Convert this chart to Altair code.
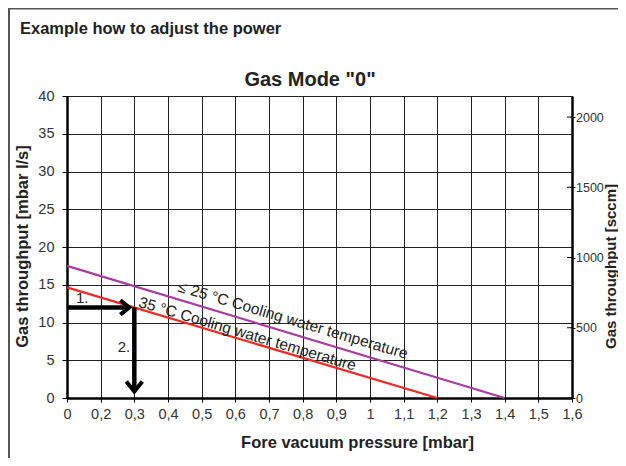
import altair as alt
import pandas as pd

# ---------------- data ----------------
x_ticks = [0, 0.2, 0.3, 0.4, 0.5, 0.6, 0.7, 0.8, 0.9, 1.0, 1.1, 1.2, 1.3, 1.4, 1.5, 1.6]
y_ticks = [0, 5, 10, 15, 20, 25, 30, 35, 40]
sccm_ticks = [0, 500, 1000, 1500, 2000]
sccm_max = 2150

series = ["≤25 °C", "35 °C"]
curve_x = [[0.0, 1.4], [0.0, 1.2]]
curve_y = [[17.5, 0.0], [14.65, 0.0]]
curve_colors = ["#a63d9f", "#ee2a24"]

labels_text = ["≤ 25 °C Cooling water temperature", "35 °C Cooling water temperature"]
labels_x = [0.427, 0.31]
labels_y = [14.15, 12.1]

arrow_h_x = [0.0, 0.285]
arrow_h_y = [12.0, 12.0]
arrow_v_x = [0.3, 0.3]
arrow_v_y = [12.0, 0.85]
step_text = ["1.", "2."]
step_x = [0.09, 0.269]
step_y = [13.2, 6.75]

# ---------------- layout ----------------
W, H = 505, 302
NARROW = "Liberation Sans Narrow, Arial Narrow, Liberation Sans"
SANS = "Liberation Sans, Arial, Helvetica"
TXT = "#222222"

xscale = alt.Scale(domain=[0, 0.2, 1.6], range=[0, W / 15, W], nice=False, zero=False)
yscale = alt.Scale(domain=[0, 40], nice=False, zero=False)

xaxis = alt.Axis(
    values=x_ticks,
    labelExpr="replace(format(datum.value, '.1~f'), '.', ',')",
    grid=True, gridColor="#222222", gridWidth=1,
    domainColor="black", domainWidth=2.5,
    tickColor="black", tickSize=4, tickWidth=1,
    labelFont=NARROW, labelFontSize=14.5, labelColor="#333333", labelPadding=5,
    labelFlush=False,
    title="Fore vacuum pressure [mbar]", titleFont=SANS, titleFontSize=16.5,
    titleFontWeight="bold", titleColor=TXT,
    titleX=290, titleY=44, titleBaseline="middle", titleAlign="center",
)
yaxis = alt.Axis(
    values=y_ticks,
    grid=True, gridColor="#222222", gridWidth=1,
    domainColor="black", domainWidth=2.5,
    tickColor="black", tickSize=5, tickWidth=1,
    labelFont=NARROW, labelFontSize=14.5, labelColor="#333333", labelPadding=8,
    labelFlush=False,
    title="Gas throughput [mbar l/s]", titleFont=SANS, titleFontSize=16.5,
    titleFontWeight="bold", titleColor=TXT,
    titleX=-45, titleY=150, titleAngle=270, titleBaseline="middle", titleAlign="center",
)


def X(field):
    return alt.X(field, type="quantitative", scale=xscale, axis=xaxis)


def Y(field):
    return alt.Y(field, type="quantitative", scale=yscale, axis=yaxis)


curves = pd.DataFrame(
    [
        {"x": xv, "y": yv, "series": s}
        for s, xs, ys in zip(series, curve_x, curve_y)
        for xv, yv in zip(xs, ys)
    ]
)

lines = alt.Chart(curves).mark_line(strokeWidth=2.2).encode(
    x=X("x"),
    y=Y("y"),
    color=alt.Color("series:N", scale=alt.Scale(domain=series, range=curve_colors), legend=None),
    detail="series:N",
)

labels_df = pd.DataFrame({"x": labels_x, "y": labels_y, "t": labels_text})
curve_labels = alt.Chart(labels_df).mark_text(
    align="left", baseline="alphabetic", angle=16.5, font=SANS, fontSize=15.5, color=TXT
).encode(x=X("x"), y=Y("y"), text="t:N")

arrow_h = alt.Chart(pd.DataFrame({"x": arrow_h_x, "y": arrow_h_y})).mark_line(
    color="black", strokeWidth=4.5
).encode(x=X("x"), y=Y("y"))
arrow_v = alt.Chart(pd.DataFrame({"x": arrow_v_x, "y": arrow_v_y})).mark_line(
    color="black", strokeWidth=4.5
).encode(x=X("x"), y=Y("y"))

head_h = alt.Chart(pd.DataFrame({"x": [arrow_h_x[-1]], "y": [arrow_h_y[-1]]})).mark_point(
    shape="M-1,-0.8L0,0L-1,0.8", size=324, filled=False, color="black",
    strokeWidth=4, opacity=1, strokeJoin="miter",
).encode(x=X("x"), y=Y("y"))
head_v = alt.Chart(pd.DataFrame({"x": [arrow_v_x[-1]], "y": [arrow_v_y[-1]]})).mark_point(
    shape="M-0.8,-1L0,0L0.8,-1", size=400, filled=False, color="black",
    strokeWidth=4, opacity=1, strokeJoin="miter",
).encode(x=X("x"), y=Y("y"))

steps = alt.Chart(pd.DataFrame({"x": step_x, "y": step_y, "t": step_text})).mark_text(
    align="center", baseline="middle", font=SANS, fontSize=15, color=TXT
).encode(x=X("x"), y=Y("y"), text="t:N")

one = pd.DataFrame({"a": [0]})
title_main = alt.Chart(one).mark_text(
    text="Example how to adjust the power", align="left", baseline="alphabetic",
    font=SANS, fontSize=16.5, fontWeight="bold", color=TXT,
).encode(x=alt.value(-47), y=alt.value(-62))
title_sub = alt.Chart(one).mark_text(
    text='Gas Mode "0"', align="center", baseline="alphabetic",
    font=SANS, fontSize=20, fontWeight="bold", color=TXT,
).encode(x=alt.value(243), y=alt.value(-10))

frame_left = alt.Chart(one).mark_rule(color="#555555", strokeWidth=2).encode(
    x=alt.value(-58), y=alt.value(-88), y2=alt.value(H + 60)
)
frame_top = alt.Chart(one).mark_rule(color="#555555", strokeWidth=2).encode(
    y=alt.value(-87.5), x=alt.value(-59), x2=alt.value(W + 46)
)

left_layer = alt.layer(
    lines, curve_labels, arrow_h, arrow_v, head_h, head_v, steps,
    title_main, title_sub, frame_left, frame_top,
)

right_layer = alt.Chart(pd.DataFrame({"s": sccm_ticks})).mark_rule(
    color="black", strokeWidth=1
).encode(
    y=alt.Y(
        "s:Q",
        scale=alt.Scale(domain=[0, sccm_max], nice=False, zero=False),
        axis=alt.Axis(
            orient="right", values=sccm_ticks, grid=False, format="d",
            domainColor="black", domainWidth=2.5,
            tickColor="black", tickSize=3, tickWidth=1,
            labelFont=NARROW, labelFontSize=12.5, labelColor="#333333", labelPadding=0.5,
            labelFlush=False,
            title="Gas throughput [sccm]", titleFont=SANS, titleFontSize=15,
            titleFontWeight="bold", titleColor=TXT,
            titleX=38.5, titleY=170, titleAngle=270, titleBaseline="middle", titleAlign="center",
        ),
    ),
    x=alt.value(W - 5),
    x2=alt.value(W),
)

chart = (
    alt.layer(left_layer, right_layer)
    .resolve_scale(y="independent")
    .properties(
        width=W, height=H,
        autosize=alt.AutoSizeParams(type="none"),
        padding={"left": 59, "top": 88, "right": 46, "bottom": 60},
        background="white",
    )
    .configure_view(stroke=None)
)

chart.save("out.html", embed_options={"renderer": "svg", "actions": False})
